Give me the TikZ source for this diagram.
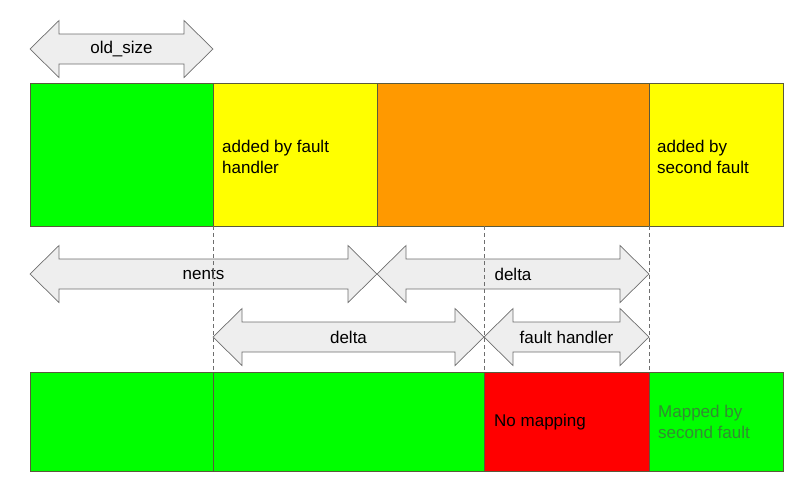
\documentclass[tikz,border=0pt]{standalone}
\usepackage{fontspec}
\setmainfont{Liberation Sans}
\definecolor{cgreen}{RGB}{0,255,0}
\definecolor{cyellow}{RGB}{255,255,0}
\definecolor{corange}{RGB}{255,153,0}
\definecolor{cred}{RGB}{255,0,0}
\definecolor{arrfill}{RGB}{238,238,238}
\definecolor{arredge}{RGB}{110,110,110}
\definecolor{boxedge}{RGB}{90,90,60}
\definecolor{mappedtext}{RGB}{50,140,50}
\newcommand\dblarrow[5]{% name, x1, x2, yc, text
  \draw[arr] (#2,#4) -- (#2+29,#4-28.5) -- (#2+29,#4-15) -- (#3-29,#4-15) -- (#3-29,#4-28.5)
    -- (#3,#4) -- (#3-29,#4+28.5) -- (#3-29,#4+15) -- (#2+29,#4+15) -- (#2+29,#4+28.5) -- cycle;
  \node[lbl] (#1) at ({(#2+#3)/2},#4) {#5};
}
\begin{document}
\begin{tikzpicture}[x=1pt,y=-1pt,
  arr/.style={draw=arredge,fill=arrfill,line width=0.7pt,line join=miter},
  lbl/.style={inner sep=0pt,font=\fontsize{17}{22}\selectfont},
  cell/.style={draw=boxedge,line width=0.8pt},
  celltext/.style={anchor=west,align=left,inner sep=0pt,font=\fontsize{17}{21}\selectfont},
  guide/.style={draw=arredge,dashed,line width=0.6pt,dash pattern=on 4pt off 3pt}]
\useasboundingbox (0,0) rectangle (800,499);
% top row
\draw[cell,fill=cgreen] (30,83) rectangle (213,226);
\draw[cell,fill=cyellow] (213,83) rectangle (377,226);
\draw[cell,fill=corange] (377,83) rectangle (649,226);
\draw[cell,fill=cyellow] (649,83) rectangle (783,226);
\node[celltext] (t1) at (222,157) {added by fault\\handler};
\node[celltext] (t2) at (657,157) {added by\\second fault};
% bottom row
\draw[cell,fill=cgreen] (30,372) rectangle (213,471);
\draw[cell,fill=cgreen] (213,372) rectangle (484,471);
\draw[cell,fill=cred] (484,372) rectangle (649,471);
\draw[cell,fill=cgreen] (649,372) rectangle (783,471);
\node[celltext] (t3) at (494,422) {No mapping};
\node[celltext,text=mappedtext] (t4) at (658,422) {Mapped by\\second fault};
% arrows
\dblarrow{a0}{30}{213}{49}{old\_size}
\dblarrow{a1}{30}{377}{274}{nents}
\dblarrow{a2}{377}{649}{274}{delta}
\dblarrow{a3}{213}{484}{337}{delta}
\dblarrow{a4}{484}{649}{337}{fault handler}
% guides
\coordinate (g1a) at (213,226); \coordinate (g1b) at (213,372);
\coordinate (g2a) at (484,226); \coordinate (g2b) at (484,372);
\coordinate (g3a) at (649,226); \coordinate (g3b) at (649,372);
\draw[guide] (g1a) -- (g1b);
\draw[guide] (g2a) -- (g2b);
\draw[guide] (g3a) -- (g3b);
\end{tikzpicture}
\end{document}
